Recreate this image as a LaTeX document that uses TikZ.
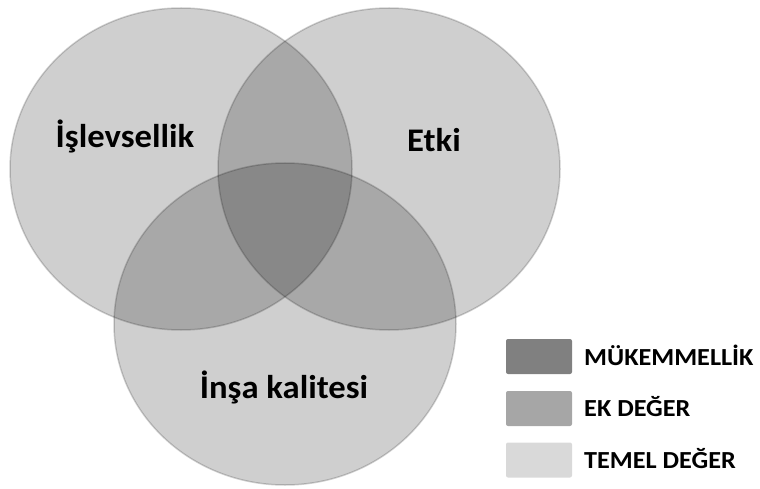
\documentclass[tikz,border=0pt]{standalone}
\usepackage{fontspec}
\setmainfont{Carlito}
\usetikzlibrary{shapes.geometric}
\begin{document}
\begin{tikzpicture}[x=1pt,y=-1pt,
  vennfill/.style={ellipse,fill=black,fill opacity=0.19,inner sep=0pt,
    minimum width=342pt,minimum height=322pt},
  vennedge/.style={ellipse,draw=black,draw opacity=0.18,line width=1.5pt,inner sep=0pt,
    minimum width=342pt,minimum height=322pt},
  setlabel/.style={font=\fontsize{33}{36}\selectfont\bfseries,text=black,inner sep=0pt,xscale=1.05},
  keybox/.style={rounded corners=2pt,inner sep=0pt,minimum width=66pt,minimum height=35pt},
  keytext/.style={font=\fontsize{24.5}{27}\selectfont\bfseries,text=black,anchor=west,inner sep=0pt,xscale=1.07}]
\useasboundingbox (0,0) rectangle (760,489);
% three overlapping sets, filled translucently so overlaps darken
\node[vennfill] (func) at (181,169) {};
\node[vennfill] (impact) at (389,169) {};
\node[vennfill] (build) at (285,324) {};
\node[vennedge] (funcE) at (181,169) {};
\node[vennedge] (impactE) at (389,169) {};
\node[vennedge] (buildE) at (285,324) {};
% set names
\node[setlabel] (lfunc) at (125,136.5) {İşlevsellik};
\node[setlabel] (limpact) at (434,140) {Etki};
\node[setlabel] (lbuild) at (284,387) {İnşa kalitesi};
% legend
\node[keybox,fill=black!50] (k1) at (539,356.5) {};
\node[keybox,fill=black!35] (k2) at (539,408.5) {};
\node[keybox,fill=black!15] (k3) at (539,460) {};
\node[keytext] (t1) at (584,355) {MÜKEMMELLİK};
\node[keytext] (t2) at (584,407) {EK DEĞER};
\node[keytext] (t3) at (584,459) {TEMEL DEĞER};
\end{tikzpicture}
\end{document}
